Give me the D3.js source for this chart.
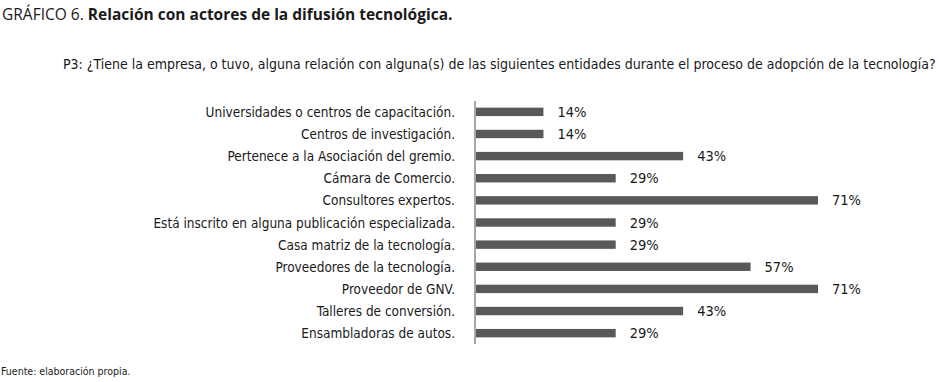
<!DOCTYPE html>
<html>
<head>
<meta charset="utf-8">
<script src="https://cdn.jsdelivr.net/npm/d3@7"></script>
<style>
  body { margin: 0; background: #fff; }
  text { font-family: 'Liberation Sans Narrow', 'DejaVu Sans Condensed', 'Liberation Sans', sans-serif; fill: #1a1a1a; }
</style>
</head>
<body>
<div id="chart"></div>
<script>
// data
let categories = [
    'Universidades o centros de capacitación.',
    'Centros de investigación.',
    'Pertenece a la Asociación del gremio.',
    'Cámara de Comercio.',
    'Consultores expertos.',
    'Está inscrito en alguna publicación especializada.',
    'Casa matriz de la tecnología.',
    'Proveedores de la tecnología.',
    'Proveedor de GNV.',
    'Talleres de conversión.',
    'Ensambladoras de autos.'
]

let values = [14, 14, 43, 29, 71, 29, 29, 57, 71, 43, 29]

let width = 939, height = 382

let svg = d3.select('#chart')
.append('svg')
.attr('width', width)
.attr('height', height)

// title
let title = svg.append('text')
.attr('x', 2)
.attr('y', 20)
.style('font-family', "'Open Sans', 'DejaVu Sans', sans-serif")
.style('font-size', '15.5px')

title.append('tspan').text('GRÁFICO 6. ').style('font-weight', 'normal')
title.append('tspan').text('Relación con actores de la difusión tecnológica.').style('font-weight', 'bold')
fitText(title, 452)

let sub = svg.append('text')
.attr('x', 63)
.attr('y', 69)
.style('font-size', '14px')
.text('P3: ¿Tiene la empresa, o tuvo, alguna relación con alguna(s) de las siguientes entidades durante el proceso de adopción de la tecnología?')
fitText(sub, 874)

let x = d3.scaleLinear()
.domain([0, 71])
.range([476, 818])

let y = d3.scaleBand()
.domain(categories)
.range([101, 344])
.paddingInner(0.62)
.paddingOuter(0.3)

// axis line
svg.append('line')
.attr('x1', 475).attr('x2', 475)
.attr('y1', 101).attr('y2', 344)
.style('stroke', '#a6a6a6')
.style('stroke-width', 2)

svg.append('g')
.selectAll('rect')
.data(values)
.join('rect')
.attr('x', x(0))
.attr('y', (d, i) => y(categories[i]))
.attr('width', d => x(d) - x(0))
.attr('height', y.bandwidth())
.attr('fill', '#595959')

svg.append('g')
.selectAll('text')
.data(categories)
.join('text')
.attr('x', 455)
.attr('y', d => y(d) + y.bandwidth() / 2)
.attr('dy', '0.35em')
.attr('text-anchor', 'end')
.style('font-size', '14.5px')
.text(d => d)
.each(function() {
    let len = this.getComputedTextLength()
    d3.select(this).attr('textLength', len * 0.93).attr('lengthAdjust', 'spacingAndGlyphs')
})

svg.append('g')
.selectAll('text')
.data(values)
.join('text')
.attr('x', d => x(d) + 14)
.attr('y', (d, i) => y(categories[i]) + y.bandwidth() / 2)
.attr('dy', '0.35em')
.style('font-size', '14.5px')
.text(d => d + '%')

svg.append('text')
.attr('x', 1)
.attr('y', 375)
.style('font-size', '10.5px')
.text('Fuente: elaboración propia.')

function fitText(sel, w) {
    let len = sel.node().getComputedTextLength()
    if (Math.abs(len - w) > 3) {
        sel.attr('textLength', w).attr('lengthAdjust', 'spacingAndGlyphs')
    }
}
</script>
</body>
</html>
